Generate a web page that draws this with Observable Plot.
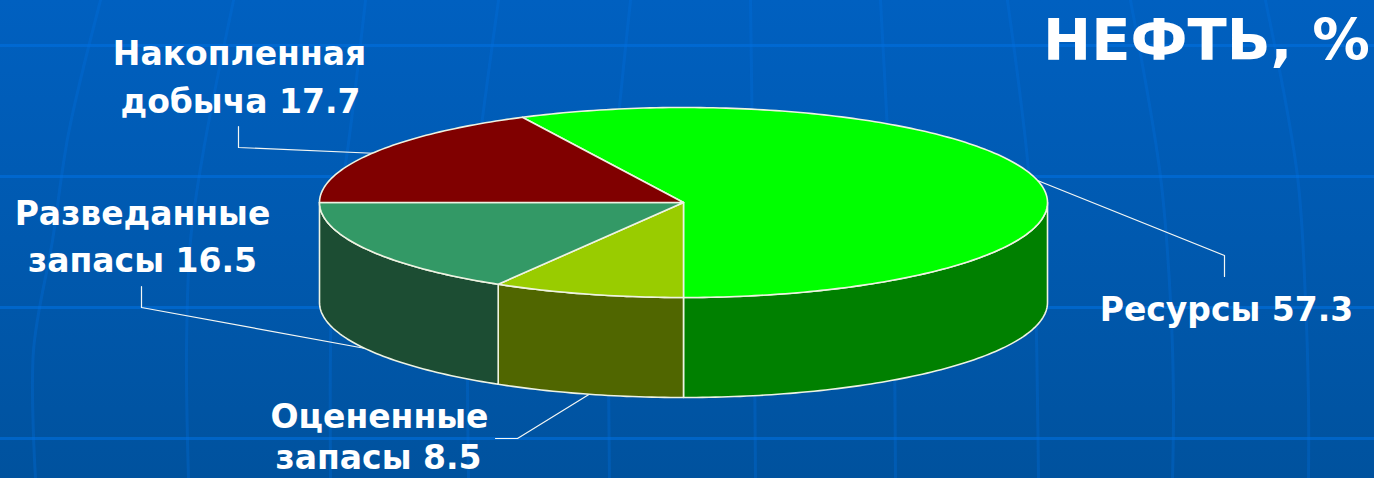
<!DOCTYPE html>
<html lang="ru">
<head>
<meta charset="utf-8">
<script src="https://cdn.jsdelivr.net/npm/d3@7"></script>
<script src="https://cdn.jsdelivr.net/npm/@observablehq/plot@0.6"></script>
<style>
html,body{margin:0;padding:0;overflow:hidden}
body{width:1374px;height:478px;background:linear-gradient(#0060c0,#00529e)}
svg{display:block}
</style>
</head>
<body>
<script>
const categories = ["Ресурсы", "Оцененные запасы", "Разведанные запасы", "Накопленная добыча"];
const values = [57.3, 8.5, 16.5, 17.7];
const topColors = ["#00ff00", "#99cc00", "#339966", "#800000"];
const wallColors = ["#008000", "#506600", "#1c4d33", "#400000"];
const title = "НЕФТЬ, %";
const labelLines = [
  ["Ресурсы 57.3"],
  ["Оцененные", "запасы 8.5"],
  ["Разведанные", "запасы 16.5"],
  ["Накопленная", "добыча 17.7"]
];

const W = 1374, H = 478;
const total = d3.sum(values);
// the first slice ends exactly at the front of the pie
const pie = {cx: 683, cy: 202, rx: 364, ry: 95, depth: 100, start: 180 - values[0] / total * 360};
const rad = d => d * Math.PI / 180;
const px = a => pie.cx + pie.rx * Math.sin(rad(a));
const py = a => pie.cy - pie.ry * Math.cos(rad(a));

let acc = pie.start;
const slices = values.map((v, i) => {
  const a0 = acc; acc += v / total * 360;
  return {i, a0, a1: acc};
});
const arc = (a0, a1) => {
  const out = [];
  for (let a = a0; a < a1; a += 1) out.push(a);
  out.push(a1);
  return out;
};
const topRows = slices.flatMap(s => {
  const pts = [[pie.cx, pie.cy], ...arc(s.a0, s.a1).map(a => [px(a), py(a)]), [pie.cx, pie.cy]];
  return pts.map(([x, y]) => ({x, y, part: "t" + s.i, color: topColors[s.i]}));
});
const wallRows = slices.flatMap(s => {
  const a0 = Math.max(s.a0, 90), a1 = Math.min(s.a1, 270);
  if (a1 <= a0) return [];
  const as = arc(a0, a1);
  const pts = [
    ...as.map(a => [px(a), py(a)]),
    ...as.slice().reverse().map(a => [px(a), py(a) + pie.depth]),
    [px(a0), py(a0)]
  ];
  return pts.map(([x, y]) => ({x, y, part: "w" + s.i, color: wallColors[s.i]}));
});

// slide background
const bgRows = [45, 176, 307, 438];
const bgCurves = [
  [[100,0],[68,133],[52,240],[33,350],[35,478]],
  [[233,0],[203,150],[190,240],[186,350],[188,478]],
  [[365,0],[347,150],[333,240],[330,350],[330,478]],
  [[498,0],[478,150],[469,240],[467,350],[468,478]],
  [[630,0],[615,150],[609,240],[608,350],[609,478]],
  [[750,0],[752,150],[753,240],[754,350],[755,478]],
  [[880,0],[888,150],[892,240],[894,350],[895,478]],
  [[1007,0],[1028,170],[1035,300],[1037,400],[1038,478]],
  [[1130,0],[1160,176],[1170,300],[1173,400],[1172,478]],
  [[1265,0],[1297,176],[1305,300],[1308,400],[1308,478]]
].flatMap((c, k) => c.map(([x, y]) => ({x, y, k})));

const leaders = [
  [[1037,180],[1224,255],[1224,276]],
  [[495,438],[517,438],[590,393]],
  [[141,286],[141,307],[365,348]],
  [[238,126],[238,147],[378,153]]
].flatMap((c, k) => c.map(([x, y]) => ({x, y, k})));

const labelAnchors = [
  [[1226, 310]],
  [[379, 417], [378, 458]],
  [[142, 214], [142, 261]],
  [[239, 54], [240, 102]]
];
const labelRows = labelLines.flatMap((lines, i) =>
  lines.map((text, j) => ({text, x: labelAnchors[i][j][0], y: labelAnchors[i][j][1]})));

const edge = "#eef3e2";
const chart = Plot.plot({
  width: W, height: H,
  margin: 0,
  style: {background: "transparent"},
  x: {domain: [0, W], range: [0, W], axis: null},
  y: {domain: [0, H], range: [0, H], axis: null},
  marks: [
    Plot.ruleY(bgRows, {stroke: "#0070e0", strokeOpacity: 0.6, strokeWidth: 3}),
    Plot.line(bgCurves, {x: "x", y: "y", z: "k", stroke: "#0070e0", strokeOpacity: 0.3, strokeWidth: 3, curve: "catmull-rom"}),
    Plot.line(leaders, {x: "x", y: "y", z: "k", stroke: "#f4f7f4", strokeWidth: 1.2}),
    Plot.line(wallRows, {x: "x", y: "y", z: "part", fill: "color", stroke: edge, strokeWidth: 1.6, strokeLinejoin: "round"}),
    Plot.line(topRows, {x: "x", y: "y", z: "part", fill: "color", stroke: edge, strokeWidth: 1.6, strokeLinejoin: "round"}),
    Plot.text(labelRows, {x: "x", y: "y", text: "text", fill: "white", fontSize: 33, fontWeight: 700, fontFamily: "DejaVu Sans", textAnchor: "middle", lineAnchor: "middle"}),
    Plot.text([title], {x: 1206, y: 41, text: d => d, fill: "white", fontSize: 57.5, fontWeight: 700, fontFamily: "DejaVu Sans", textAnchor: "middle", lineAnchor: "middle"})
  ]
});
document.body.append(chart);
</script>
</body>
</html>
